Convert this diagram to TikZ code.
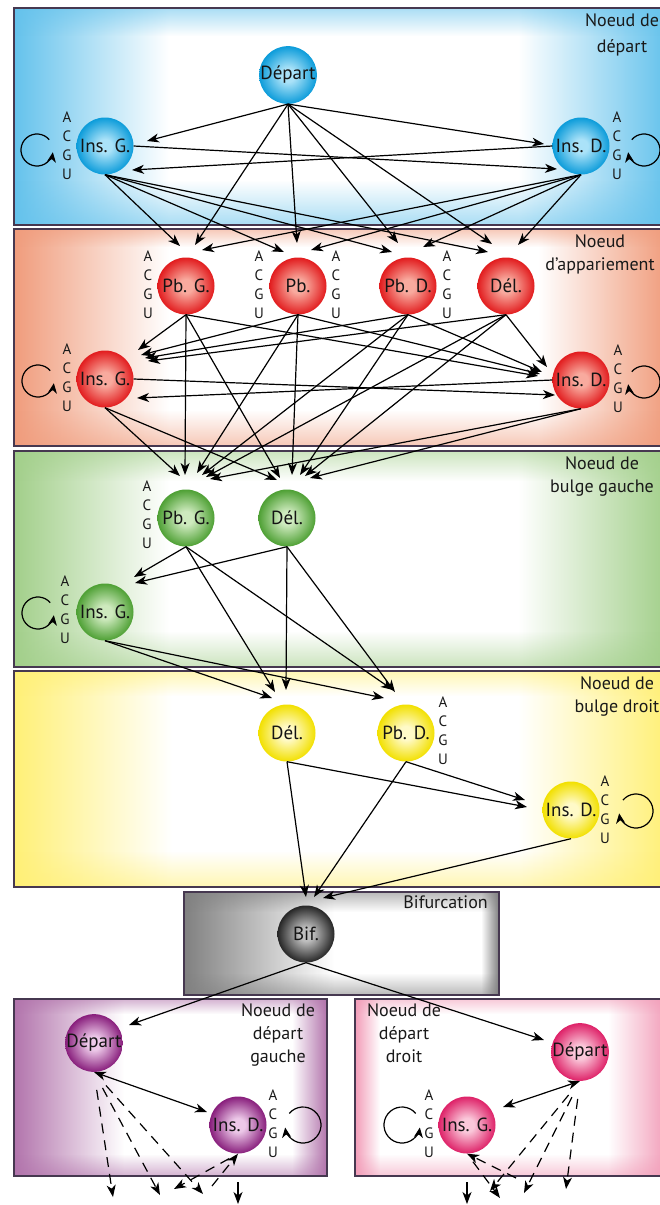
\documentclass[tikz,border=0pt]{standalone}
\usepackage{fontspec}
\setmainfont{PT Sans}
\usetikzlibrary{arrows.meta,calc,fadings}

% frame colours
\definecolor{fblue}{RGB}{100,194,236}
\definecolor{fred}{RGB}{240,156,124}
\definecolor{fgreen}{RGB}{162,207,138}
\definecolor{fyellow}{RGB}{255,240,118}
\definecolor{fgray}{RGB}{128,128,128}
\definecolor{fpurple}{RGB}{178,116,172}
\definecolor{fpink}{RGB}{242,156,184}
\definecolor{framerule}{RGB}{70,56,80}
% state colours
\definecolor{blueout}{RGB}{12,156,218}\definecolor{bluein}{RGB}{170,226,248}
\definecolor{redout}{RGB}{226,28,30}\definecolor{redin}{RGB}{248,170,158}
\definecolor{greenout}{RGB}{78,160,52}\definecolor{greenin}{RGB}{206,234,190}
\definecolor{yellowout}{RGB}{242,224,0}\definecolor{yellowin}{RGB}{255,250,200}
\definecolor{grayout}{RGB}{38,38,38}\definecolor{grayin}{RGB}{190,190,190}
\definecolor{purpleout}{RGB}{136,30,124}\definecolor{purplein}{RGB}{236,200,232}
\definecolor{pinkout}{RGB}{222,34,104}\definecolor{pinkin}{RGB}{250,200,218}

\pgfdeclareradialshading{ballblue}{\pgfpointorigin}{color(0bp)=(bluein); color(6bp)=(bluein); color(25bp)=(blueout); color(50bp)=(blueout)}
\pgfdeclareradialshading{ballred}{\pgfpointorigin}{color(0bp)=(redin); color(6bp)=(redin); color(25bp)=(redout); color(50bp)=(redout)}
\pgfdeclareradialshading{ballgreen}{\pgfpointorigin}{color(0bp)=(greenin); color(6bp)=(greenin); color(25bp)=(greenout); color(50bp)=(greenout)}
\pgfdeclareradialshading{ballyellow}{\pgfpointorigin}{color(0bp)=(yellowin); color(6bp)=(yellowin); color(25bp)=(yellowout); color(50bp)=(yellowout)}
\pgfdeclareradialshading{ballgray}{\pgfpointorigin}{color(0bp)=(grayin); color(6bp)=(grayin); color(25bp)=(grayout); color(50bp)=(grayout)}
\pgfdeclareradialshading{ballpurple}{\pgfpointorigin}{color(0bp)=(purplein); color(6bp)=(purplein); color(25bp)=(purpleout); color(50bp)=(purpleout)}
\pgfdeclareradialshading{ballpink}{\pgfpointorigin}{color(0bp)=(pinkin); color(6bp)=(pinkin); color(25bp)=(pinkout); color(50bp)=(pinkout)}

% fadings for the top and bottom bands of a panel
\tikzfading[name=bandtop, top color=transparent!0, bottom color=transparent!100]
\tikzfading[name=bandbottom, top color=transparent!100, bottom color=transparent!0]

% framed panel: colour at the border fading to a white interior
% #1 x0, #2 y0, #3 x1, #4 y1, #5 colour, #6 left, #7 right, #8 top, #9 bottom
\newcommand\gradpanel[9]{%
  \fill[white] (#1,#2) rectangle (#3,#4);
  \shade[left color=#5,right color=white] (#1,#2) rectangle (#1+#6,#4);
  \shade[left color=white,right color=#5] (#3-#7,#2) rectangle (#3,#4);
  \fill[#5,path fading=bandtop,fill opacity=0.55] (#1,#2) rectangle (#3,#2+#8);
  \fill[#5,path fading=bandbottom,fill opacity=0.55] (#1,#4-#9) rectangle (#3,#4);
  \draw[framerule,line width=1.4pt] (#1,#2) rectangle (#3,#4);
}

% self loops beside insert states
\newcommand\leftloop[3]{\draw[selfloop] ($(#1)+(#2)+(40:#3pt)$) arc[start angle=40,end angle=352,radius=#3pt];}
\newcommand\rightloop[3]{\draw[selfloop] ($(#1)+(#2)+(140:#3pt)$) arc[start angle=140,end angle=-172,radius=#3pt];}

\begin{document}
\begin{tikzpicture}[x=1pt,y=-1pt,
  state/.style={circle,minimum size=57pt,inner sep=0pt,shade,
    font=\fontsize{19}{21}\selectfont,text=black!92},
  sblue/.style={state,shading=ballblue},
  sred/.style={state,shading=ballred},
  sgreen/.style={state,shading=ballgreen},
  syellow/.style={state,shading=ballyellow},
  sgray/.style={state,shading=ballgray},
  spurple/.style={state,shading=ballpurple},
  spink/.style={state,shading=ballpink},
  acgu/.style={align=center,inner sep=0pt,font=\fontsize{15}{19}\selectfont,text=black!90},
  panellabel/.style={align=center,inner sep=0pt,anchor=north,font=\fontsize{18}{23}\selectfont,text=black!90},
  arr/.style={draw,line width=1.2pt,-{Stealth[length=12pt,width=9pt,inset=3.5pt]}},
  dblarr/.style={draw,line width=1.2pt,{Stealth[length=12pt,width=9pt,inset=3.5pt]}-{Stealth[length=12pt,width=9pt,inset=3.5pt]}},
  darr/.style={arr,dash pattern=on 10pt off 7pt},
  selfloop/.style={draw,line width=1.2pt,-{Stealth[length=10pt,width=9pt,inset=3pt]}}
]
\useasboundingbox (0,0) rectangle (659,1205);
\fill[white] (0,0) rectangle (659,1205);

% panels
\gradpanel{14}{8}{668}{225}{fblue}{155}{150}{28}{45}
\gradpanel{14}{229}{668}{446}{fred}{155}{130}{18}{36}
\gradpanel{14}{451}{668}{667}{fgreen}{155}{150}{30}{36}
\gradpanel{14}{671}{668}{887}{fyellow}{158}{150}{25}{36}
\gradpanel{184}{892}{499}{995}{fgray}{150}{18}{20}{22}
\gradpanel{14}{999}{327}{1176}{fpurple}{110}{35}{15}{22}
\gradpanel{355}{999}{668}{1176}{fpink}{25}{60}{15}{22}

% panel titles
\node[panellabel,font=\fontsize{18}{26}\selectfont] (t1) at (622,13) {Noeud de\\départ};
\node[panellabel] (t2) at (600,234) {Noeud\\d’appariement};
\node[panellabel] (t3) at (602,456) {Noeud de\\bulge gauche};
\node[panellabel] (t4) at (617,676) {Noeud de\\bulge droit};
\node[panellabel,anchor=north east] (t5) at (488,896) {Bifurcation};
\node[panellabel] (t6) at (278,1003) {Noeud de\\départ\\gauche};
\node[panellabel] (t7) at (404,1003) {Noeud de\\départ\\droit};

% states
\node[sblue] (bdep) at (288,75) {Départ};
\node[sblue] (bing) at (105,146) {Ins. G.};
\node[sblue] (bind) at (581,146) {Ins. D.};

\node[sred] (rpbg) at (186,286) {Pb. G.};
\node[sred] (rpb)  at (298,286) {Pb.};
\node[sred] (rpbd) at (408,286) {Pb. D.};
\node[sred] (rdel) at (506,286) {Dél.};
\node[sred] (ring) at (105,379) {Ins. G.};
\node[sred] (rind) at (581,380) {Ins. D.};

\node[sgreen] (gpbg) at (186,518) {Pb. G.};
\node[sgreen] (gdel) at (287,518) {Dél.};
\node[sgreen] (ging) at (105,612) {Ins. G.};

\node[syellow] (ydel) at (287,733) {Dél.};
\node[syellow] (ypbd) at (406,733) {Pb. D.};
\node[syellow] (yind) at (571,810) {Ins. D.};

\node[sgray] (bif) at (306,934) {Bif.};

\node[spurple] (pdep) at (94,1043) {Départ};
\node[spurple] (pind) at (238,1125) {Ins. D.};

\node[spink] (kdep) at (580,1052) {Départ};
\node[spink] (king) at (467,1125) {Ins. G.};

% emitted nucleotides
\node[acgu] (bing-a) at ($(bing)+(-38,0)$) {A\\C\\G\\U};
\node[acgu] (bind-a) at ($(bind)+(36,0)$) {A\\C\\G\\U};
\node[acgu] (rpbg-a) at ($(rpbg)+(-38,-1)$) {A\\C\\G\\U};
\node[acgu] (rpb-a)  at ($(rpb)+(-39,-1)$) {A\\C\\G\\U};
\node[acgu] (rpb-b)  at ($(rpb)+(38,-1)$) {A\\C\\G\\U};
\node[acgu] (rpbd-a) at ($(rpbd)+(39,-1)$) {A\\C\\G\\U};
\node[acgu] (ring-a) at ($(ring)+(-38,-1)$) {A\\C\\G\\U};
\node[acgu] (rind-a) at ($(rind)+(37,-1)$) {A\\C\\G\\U};
\node[acgu] (gpbg-a) at ($(gpbg)+(-39,-3)$) {A\\C\\G\\U};
\node[acgu] (ging-a) at ($(ging)+(-40,-2)$) {A\\C\\G\\U};
\node[acgu] (ypbd-a) at ($(ypbd)+(37,-2)$) {A\\C\\G\\U};
\node[acgu] (yind-a) at ($(yind)+(34,0)$) {A\\C\\G\\U};
\node[acgu] (pind-a) at ($(pind)+(35,-1)$) {A\\C\\G\\U};
\node[acgu] (king-a) at ($(king)+(-38,-1)$) {A\\C\\G\\U};

% self loops
\leftloop{bing}{-68,4}{16}
\rightloop{bind}{63,4}{16}
\leftloop{ring}{-67,2}{16}
\rightloop{rind}{63,2}{16}
\leftloop{ging}{-67,1}{16}
\rightloop{yind}{65,1}{17}
\rightloop{pind}{65,0}{18}
\leftloop{king}{-65,0}{18}

% start node
\draw[arr] (bdep.south) -- ($(bing)+(42,-5)$);
\draw[arr] (bdep.south) -- ($(bind)+(-37,-2)$);
\draw[arr] (bing.east) -- ($(bind)+(-24,23)$);
\draw[arr] (bind.west) -- ($(bing)+(27,24)$);
\foreach \s/\t/\dx/\dy in {
  bdep/rpbg/9/-41, bdep/rpb/-1/-43, bdep/rpbd/-10/-43, bdep/rdel/-14/-42,
  bing/rpbg/-6/-40, bing/rpb/-14/-34, bing/rpbd/-16/-34, bing/rdel/-18/-34,
  bind/rpbg/16/-36, bind/rpb/13/-36, bind/rpbd/15/-39, bind/rdel/12/-41}
  \draw[arr] (\s.south) -- ($(\t)+(\dx,\dy)$);

% pairing node
\foreach \s/\t/\dx/\dy in {
  rpbg/ring/33/-29, rpb/ring/36/-24, rpbd/ring/40/-21, rdel/ring/43/-18,
  rpbg/rind/-43/-4, rpb/rind/-41/-6, rpbd/rind/-39/-8, rdel/rind/-34/-13,
  rpbg/gpbg/-1/-43, ring/gpbg/-6/-42, rpb/gpbg/11/-45, rpbd/gpbg/16/-43,
  rdel/gpbg/20/-41, rind/gpbg/24/-39,
  rpbg/gdel/-7/-40, ring/gdel/-10/-38, rpb/gdel/5/-43, rpbd/gdel/13/-43,
  rdel/gdel/18/-42, rind/gdel/23/-40}
  \draw[arr] (\s.south) -- ($(\t)+(\dx,\dy)$);
\draw[arr] (ring.east) -- ($(rind)+(-26,15)$);
\draw[arr] (rind.west) -- ($(ring)+(32,19)$);

% left bulge node
\foreach \s/\t/\dx/\dy in {
  gpbg/ging/29/-35, gdel/ging/30/-29,
  gpbg/ydel/-12/-41, gpbg/ypbd/-13/-43, gdel/ydel/-1/-43, gdel/ypbd/-11/-41,
  ging/ydel/-15/-35, ging/ypbd/-22/-35}
  \draw[arr] (\s.south) -- ($(\t)+(\dx,\dy)$);

% right bulge node
\foreach \s/\t/\dx/\dy in {
  ydel/yind/-44/-3, ypbd/yind/-46/-10,
  ydel/bif/0/-37, ypbd/bif/8/-37, yind/bif/17/-36}
  \draw[arr] (\s.south) -- ($(\t)+(\dx,\dy)$);

% bifurcation
\draw[arr] (bif.south) -- ($(pdep)+(35,-18)$);
\draw[arr] (bif.south) -- ($(kdep)+(-36,-12)$);

% left start node
\draw[dblarr] (pdep.south) -- ($(pind)+(-31,-13)$);
\coordinate (pa) at (113,1197);
\coordinate (pb) at (160,1195);
\coordinate (pc) at (203,1194);
\coordinate (pd) at (174,1189);
\coordinate (pe) at (212,1186);
\coordinate (pf) at (238,1182);
\coordinate (pg) at (238,1204);
\foreach \t in {pa,pb,pc}
  \draw[darr,shorten <=18pt] (pdep.south) -- (\t);
\draw[darr,shorten <=10pt] (pind.south) -- (pd);
\draw[darr] (pe) -- (pind.south);
\draw[arr] (pf) -- (pg);

% right start node
\draw[dblarr] (kdep.south) -- ($(king)+(36,-18)$);
\coordinate (ka) at (566,1189);
\coordinate (kb) at (524,1193);
\coordinate (kc) at (490,1191);
\coordinate (kd) at (516,1178);
\coordinate (ke) at (500,1198);
\coordinate (kf) at (467,1182);
\coordinate (kg) at (467,1204);
\foreach \t in {ka,kb,kc}
  \draw[darr,shorten <=18pt] (kdep.south) -- (\t);
\draw[darr] (kd) -- (king.south);
\draw[darr,shorten <=10pt] (king.south) -- (ke);
\draw[arr] (kf) -- (kg);
\end{tikzpicture}
\end{document}
